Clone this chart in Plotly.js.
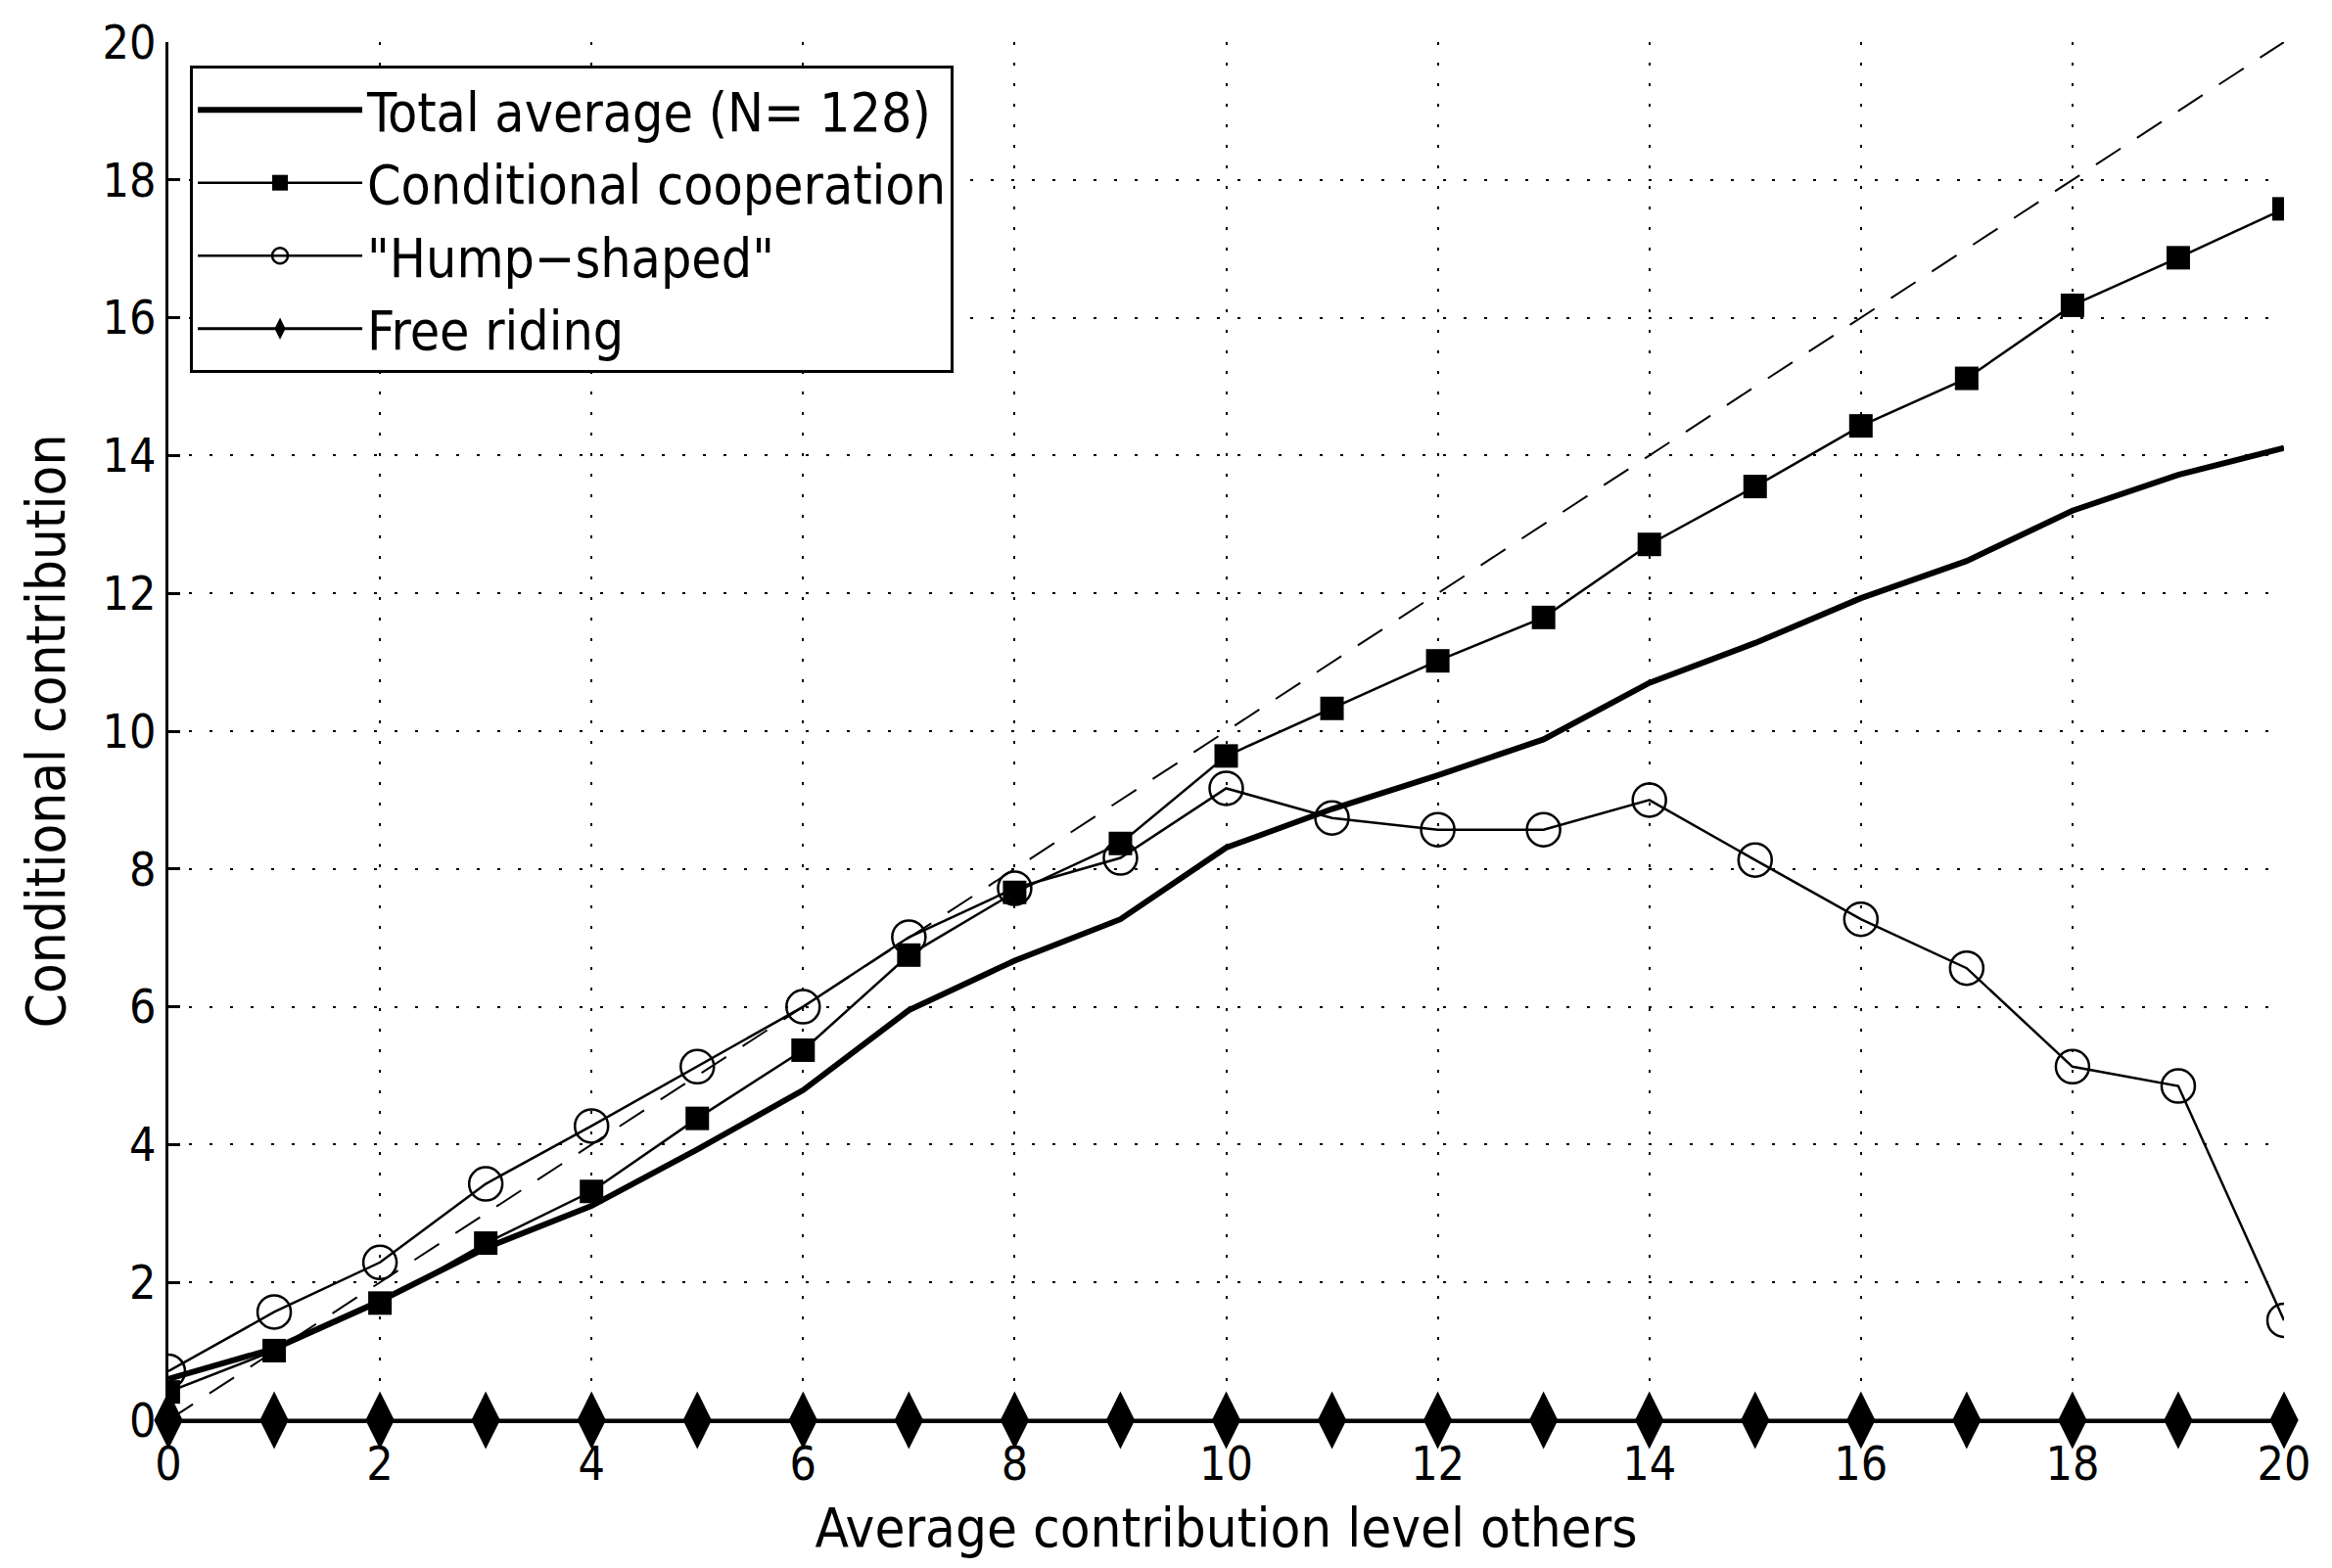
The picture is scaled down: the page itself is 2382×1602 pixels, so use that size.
<!DOCTYPE html>
<html>
<head>
<meta charset="utf-8">
<script src="https://cdn.plot.ly/plotly-3.0.1.min.js"></script>
<style>
  html, body { margin: 0; padding: 0; background: #fff; }
  #myDiv { width: 2382px; height: 1602px; }
  #myDiv text { font-stretch: condensed; }
</style>
</head>
<body>
<div id="myDiv"></div>
<script>
var othersLevel = [0, 1, 2, 3, 4, 5, 6, 7, 8, 9, 10, 11, 12, 13, 14, 15, 16, 17, 18, 19, 20];
var totalAverage = [0.6, 1.04, 1.73, 2.5, 3.11, 3.93, 4.79, 5.95, 6.67, 7.27, 8.31, 8.87, 9.36, 9.88, 10.7, 11.28, 11.93, 12.47, 13.2, 13.72, 14.11];
var condCoop = [0.41, 1.01, 1.7, 2.57, 3.32, 4.38, 5.37, 6.75, 7.66, 8.37, 9.64, 10.33, 11.02, 11.65, 12.71, 13.55, 14.43, 15.12, 16.18, 16.87, 17.58];
var humpShaped = [0.71, 1.57, 2.29, 3.43, 4.27, 5.13, 6.0, 7.01, 7.72, 8.16, 9.17, 8.74, 8.57, 8.57, 9.0, 8.13, 7.27, 6.56, 5.13, 4.85, 1.45];
var freeRiding = [0, 0, 0, 0, 0, 0, 0, 0, 0, 0, 0, 0, 0, 0, 0, 0, 0, 0, 0, 0, 0];
var diagonal = [0, 20];

var font = 'DejaVu Sans Condensed, Liberation Sans Narrow, Liberation Sans, Arial, sans-serif';

var diag = {
  x: diagonal,
  y: diagonal,
  mode: 'lines',
  line: {color: '#000', width: 2, dash: '30px,20px'},
  showlegend: false,
  hoverinfo: 'skip'
};
var trace1 = {
  x: othersLevel,
  y: totalAverage,
  name: 'Total average (N= 128)',
  mode: 'lines',
  line: {color: '#000', width: 6}
};
var trace2 = {
  x: othersLevel,
  y: condCoop,
  name: 'Conditional cooperation',
  mode: 'lines+markers',
  line: {color: '#000', width: 2.5},
  marker: {symbol: 'square', size: 24, color: '#000'}
};
var trace3 = {
  x: othersLevel,
  y: humpShaped,
  name: '"Hump\u2212shaped"',
  mode: 'lines+markers',
  line: {color: '#000', width: 2.5},
  marker: {symbol: 'circle-open', size: 34, color: '#000', line: {width: 2.5, color: '#000'}}
};
var trace4 = {
  x: othersLevel,
  y: freeRiding,
  name: 'Free riding',
  mode: 'lines+markers',
  line: {color: '#000', width: 3},
  marker: {symbol: 'diamond-tall', size: 42, color: '#000'},
  cliponaxis: false
};

var data = [diag, trace1, trace2, trace3, trace4];

var layout = {
  width: 2382,
  height: 1602,
  margin: {l: 172, r: 49, t: 43, b: 151},
  paper_bgcolor: '#fff',
  plot_bgcolor: '#fff',
  font: {family: font, color: '#000', size: 48},
  showlegend: true,
  legend: {
    x: 0.0102,
    y: 0.983,
    xanchor: 'left',
    yanchor: 'top',
    bgcolor: '#fff',
    bordercolor: '#000',
    borderwidth: 3,
    font: {family: font, size: 55, color: '#000'},
    itemwidth: 168,
    tracegroupgap: 0
  },
  xaxis: {
    range: [0, 20],
    dtick: 2,
    tick0: 0,
    ticks: 'inside',
    ticklen: 12,
    tickwidth: 3,
    tickcolor: '#000',
    showline: true,
    linecolor: '#000',
    linewidth: 3,
    showgrid: true,
    gridcolor: '#000',
    gridwidth: 2,
    griddash: '3px,18px',
    zeroline: false,
    tickfont: {family: font, size: 48},
    title: {text: 'Average contribution level others', font: {family: font, size: 56}, standoff: 20}
  },
  yaxis: {
    range: [0, 20],
    dtick: 2,
    tick0: 0,
    ticks: 'inside',
    ticklen: 12,
    tickwidth: 3,
    tickcolor: '#000',
    showline: true,
    linecolor: '#000',
    linewidth: 3,
    showgrid: true,
    gridcolor: '#000',
    gridwidth: 2,
    griddash: '3px,18px',
    zeroline: false,
    tickfont: {family: font, size: 48},
    title: {text: 'Conditional contribution', font: {family: font, size: 56}, standoff: 20}
  }
};

Plotly.newPlot('myDiv', data, layout, {displayModeBar: false});
</script>
</body>
</html>
